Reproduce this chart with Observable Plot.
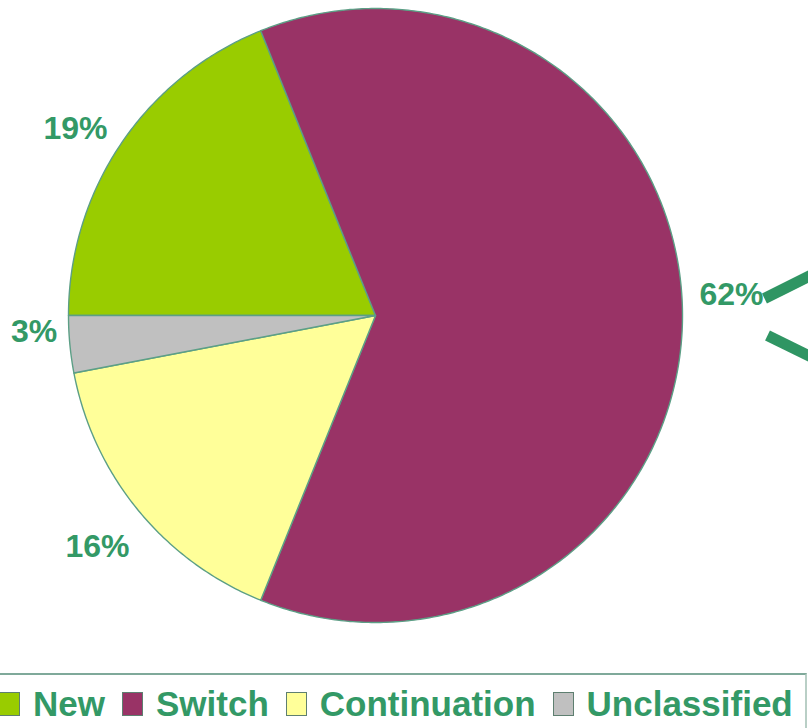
<!DOCTYPE html>
<html>
<head>
<meta charset="utf-8">
<script src="https://cdn.jsdelivr.net/npm/d3@7"></script>
<script src="https://cdn.jsdelivr.net/npm/@observablehq/plot@0.6"></script>
<style>
  html, body { margin: 0; padding: 0; background: #fff; width: 808px; height: 728px; overflow: hidden; }
  #chart svg { display: block; }
  #legend {
    position: absolute; left: -1px; top: 673px; width: 808px; height: 60px;
    border-top: 2px solid #7fa99a; border-right: 2px solid #b9cfc6;
    display: flex; align-items: center; box-sizing: border-box;
    font-family: "Liberation Sans", Arial, sans-serif; font-weight: bold;
    font-size: 35px; color: #339966; white-space: nowrap;
  }
  .sw { display: inline-block; width: 21px; height: 24px; box-sizing: border-box; border: 1px solid #5e7f70; margin-right: 13px; }
  .it { display: inline-flex; align-items: center; margin-right: 17px; }
</style>
</head>
<body>
<div id="chart"></div>
<div id="legend"></div>
<script>
// ---- data ----
const categories = ["New", "Switch", "Continuation", "Unclassified"];
const shares = [18.9, 62.2, 15.9, 3.0];
const labels = ["19%", "62%", "16%", "3%"];
const colors = ["#99cc00", "#993366", "#ffff99", "#c0c0c0"];

// ---- layout ----
const W = 808, H = 672;
const cx = 375, cy = 315, r = 307, labelR = 356;
// per-label nudges (pixels) to mimic the original label placement
const nudge = [[-5, 12], [0, -21], [-3, 5], [13, -17]];

const data = categories.map((c, i) => ({category: c, value: shares[i], label: labels[i]}));
const arcs = d3.pie().sort(null).value(d => d.value)
  .startAngle(-Math.PI / 2).endAngle(3 * Math.PI / 2)(data);

const px = (a, rad) => cx + rad * Math.sin(a);
const py = (a, rad) => cy - rad * Math.cos(a);

// polygon points for each slice
const slicePts = [];
for (const a of arcs) {
  const cat = a.data.category;
  slicePts.push({category: cat, x: cx, y: cy});
  const n = Math.max(8, Math.ceil((a.endAngle - a.startAngle) / 0.01));
  for (let k = 0; k <= n; k++) {
    const t = a.startAngle + (a.endAngle - a.startAngle) * k / n;
    slicePts.push({category: cat, x: px(t, r), y: py(t, r)});
  }
  slicePts.push({category: cat, x: cx, y: cy});
}

const labelPts = arcs.map((a, i) => {
  const m = (a.startAngle + a.endAngle) / 2;
  return {label: a.data.label, x: px(m, labelR) + nudge[i][0], y: py(m, labelR) + nudge[i][1]};
});

// callout bracket to the right of the largest slice
const bx = cx + r + 82;
const bracket = [
  {seg: "up", x: bx, y: cy - 17},  {seg: "up", x: bx + 52, y: cy - 43},
  {seg: "dn", x: bx + 3, y: cy + 20}, {seg: "dn", x: bx + 52, y: cy + 44}
];

const chart = Plot.plot({
  width: W, height: H,
  margin: 0,
  x: {domain: [0, W], range: [0, W], axis: null},
  y: {domain: [0, H], range: [0, H], axis: null},
  color: {domain: categories, range: colors},
  marks: [
    Plot.line(slicePts, {x: "x", y: "y", z: "category", fill: "category",
      stroke: "#5c9f86", strokeWidth: 1.4, strokeLinejoin: "round", curve: "linear"}),
    Plot.line(bracket, {x: "x", y: "y", z: "seg", stroke: "#2f9563", strokeWidth: 11, strokeLinecap: "butt"}),
    Plot.text(labelPts, {x: "x", y: "y", text: "label", fill: "#339966",
      fontSize: 32, fontWeight: "bold", fontFamily: "Liberation Sans, Arial, sans-serif"})
  ]
});
document.getElementById("chart").appendChild(chart);

// legend
const leg = document.getElementById("legend");
categories.forEach((c, i) => {
  const it = document.createElement("span");
  it.className = "it";
  const sw = document.createElement("span");
  sw.className = "sw";
  sw.style.background = colors[i];
  const tx = document.createElement("span");
  tx.textContent = c;
  it.appendChild(sw); it.appendChild(tx);
  leg.appendChild(it);
});
</script>
</body>
</html>
